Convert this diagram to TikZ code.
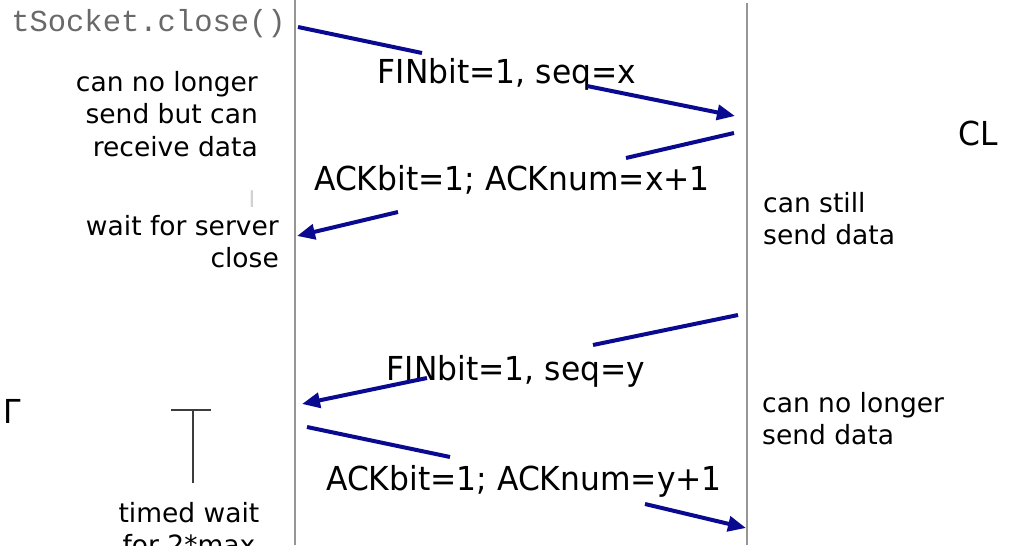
\documentclass[tikz,border=0pt]{standalone}
\usepackage{fontspec}
\setmainfont{DejaVu Sans}
\newfontfamily\labfont[FakeStretch=0.95]{DejaVu Sans}
\newfontfamily\sidefont{DejaVu Sans}
\newfontfamily\codefont{Liberation Mono}
\usetikzlibrary{arrows.meta}
\definecolor{msgblue}{RGB}{10,10,145}
\definecolor{lifegray}{RGB}{150,150,150}
\definecolor{codegray}{RGB}{105,105,105}
\definecolor{tickgray}{RGB}{60,60,60}
\begin{document}
\begin{tikzpicture}[x=1pt,y=-1pt,
  lab/.style={font=\labfont\fontsize{33}{33}\selectfont, inner sep=0pt, anchor=base},
  side/.style={font=\sidefont\fontsize{26.5}{32.5}\selectfont, inner sep=0pt},
  code/.style={font=\codefont\fontsize{30.5}{30.5}\selectfont, text=codegray, inner sep=0pt},
  lifeline/.style={draw=lifegray, line width=2pt},
  msgline/.style={draw=msgblue, line width=4pt},
  msgarrow/.style={msgline, -{Triangle[length=18pt,width=15pt]}},
  tickline/.style={draw=tickgray, line width=1.5pt}
]
\useasboundingbox (0,0) rectangle (1031,556);
\begin{scope}
\clip (0,0) rectangle (1031,545);

% lifelines
\coordinate (Ltop) at (295,0);
\coordinate (Lbot) at (295,545);
\coordinate (Rtop) at (747,3);
\coordinate (Rbot) at (747,545);
\draw[lifeline] (Ltop) -- (Lbot);
\draw[lifeline] (Rtop) -- (Rbot);

% code text
\node[code, anchor=base east] (close) at (286,32) {tSocket.close()};

% message labels
\node[lab] (finx) at (507,84) {FINbit=1, seq=x};
\node[lab] (ackx) at (512,191) {ACKbit=1; ACKnum=x+1};
\node[lab] (finy) at (516,380) {FINbit=1, seq=y};
\node[lab] (acky) at (524,490) {ACKbit=1; ACKnum=y+1};

\node[lab, anchor=base west] (cl) at (958,146) {CL};
\node[lab, anchor=base west] (gam) at (3,423) {Γ};
\node[font=\rmfamily\fontsize{23}{23}\selectfont, text=black!18, inner sep=0pt, anchor=base] (cursor) at (252,208) {I};

% side notes
\node[side, align=right, anchor=north east] (c1) at (258,71) {can no longer\\send but can\\receive data};
\node[side, align=right, anchor=north east] (c2) at (279,215) {wait for server\\close};
\node[side, align=left, anchor=north west] (s1) at (763,192) {can still\\send data};
\node[side, align=left, anchor=north west] (s2) at (762,392) {can no longer\\send data};
\node[side, align=center, anchor=north] (tw) at (189,502) {timed wait\\for 2*max};

% timed wait marker
\coordinate (t1) at (171,410);
\coordinate (t2) at (211,410);
\coordinate (t3) at (193,410);
\coordinate (t4) at (193,483);
\draw[tickline] (t1) -- (t2);
\draw[tickline] (t3) -- (t4);

% message 1: FIN x
\coordinate (m1a) at (298,27);
\coordinate (m1b) at (422,53);
\coordinate (m1c) at (587,86);
\coordinate (m1d) at (735,116);
\draw[msgline] (m1a) -- (m1b);
\draw[msgarrow] (m1c) -- (m1d);

% message 2: ACK x
\coordinate (m2a) at (734,133);
\coordinate (m2b) at (626,158);
\coordinate (m2c) at (398,212);
\coordinate (m2d) at (297,236);
\draw[msgline] (m2a) -- (m2b);
\draw[msgarrow] (m2c) -- (m2d);

% message 3: FIN y
\coordinate (m3a) at (738,315);
\coordinate (m3b) at (593,345);
\coordinate (m3c) at (427,378);
\coordinate (m3d) at (302,404);
\draw[msgline] (m3a) -- (m3b);
\draw[msgarrow] (m3c) -- (m3d);

% message 4: ACK y
\coordinate (m4a) at (307,427);
\coordinate (m4b) at (450,457);
\coordinate (m4c) at (645,504);
\coordinate (m4d) at (746,528);
\draw[msgline] (m4a) -- (m4b);
\draw[msgarrow] (m4c) -- (m4d);
\end{scope}
\end{tikzpicture}
\end{document}
